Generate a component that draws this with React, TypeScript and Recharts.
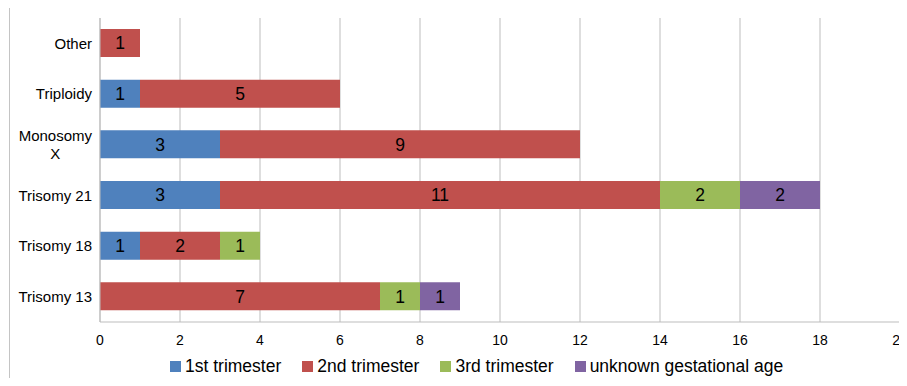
import React from 'react';
import { BarChart, Bar, XAxis, YAxis, CartesianGrid, Legend, LabelList } from 'recharts';

const categories = ['Other', 'Triploidy', 'Monosomy X', 'Trisomy 21', 'Trisomy 18', 'Trisomy 13'];
const firstTrimester = [null, 1, 3, 3, 1, null];
const secondTrimester = [1, 5, 9, 11, 2, 7];
const thirdTrimester = [null, null, null, 2, 1, 1];
const unknownAge = [null, null, null, 2, null, 1];
const xTicks = [0, 2, 4, 6, 8, 10, 12, 14, 16, 18, 20];

const seriesNames = ['1st trimester', '2nd trimester', '3rd trimester', 'unknown gestational age'];
const seriesKeys = ['first', 'second', 'third', 'unknown'];
const seriesColors = ['#4F81BD', '#C0504D', '#9BBB59', '#8064A2'];

const data = categories.map((name, i) => ({
  name,
  first: firstTrimester[i],
  second: secondTrimester[i],
  third: thirdTrimester[i],
  unknown: unknownAge[i],
}));

const FONT = '"Liberation Sans", Arial, Helvetica, sans-serif';

let ctx: CanvasRenderingContext2D | null = null;
function measure(text: string, size: number): number {
  if (!ctx) {
    const c = document.createElement('canvas');
    ctx = c.getContext('2d');
  }
  if (!ctx) return text.length * size * 0.55;
  ctx.font = `${size}px "Liberation Sans", Arial, sans-serif`;
  return ctx.measureText(text).width;
}

function wrap(text: string, size: number, maxW: number): string[] {
  const words = text.split(' ');
  const lines: string[] = [];
  let cur = '';
  for (const w of words) {
    const t = cur ? cur + ' ' + w : w;
    if (cur && measure(t, size) > maxW) {
      lines.push(cur);
      cur = w;
    } else cur = t;
  }
  if (cur) lines.push(cur);
  return lines;
}

const YTick = (props: any) => {
  const { x, y, payload } = props;
  const size = 15;
  const lines = wrap(String(payload.value), size, 85);
  if (lines.length === 1) {
    return (
      <text x={x + 1} y={y} dy="0.35em" textAnchor="end" fontSize={size} fontFamily={FONT} fill="#000">
        {lines[0]}
      </text>
    );
  }
  const maxW = Math.max(...lines.map((l) => measure(l, size)));
  const cx = x + 1 - maxW / 2;
  const lh = 18;
  const start = y - ((lines.length - 1) * lh) / 2;
  return (
    <text textAnchor="middle" fontSize={size} fontFamily={FONT} fill="#000">
      {lines.map((l, i) => (
        <tspan key={i} x={cx} y={start + i * lh} dy="0.35em">
          {l}
        </tspan>
      ))}
    </text>
  );
};

const LegendContent = () => (
  <div
    style={{
      display: 'flex',
      paddingLeft: 170,
      paddingTop: 10,
      fontFamily: FONT,
      fontSize: 17.5,
      color: '#000',
      lineHeight: '20px',
    }}
  >
    {seriesNames.map((n, i) => (
      <div key={n} style={{ display: 'flex', alignItems: 'center', marginRight: 21 }}>
        <span style={{ display: 'inline-block', width: 11, height: 11, background: seriesColors[i], marginRight: 4 }} />
        <span>{n}</span>
      </div>
    ))}
  </div>
);

const labelFmt = (v: any) => (v ? v : '');

export default function App() {
  return (
    <div style={{ margin: -8, width: 907, height: 386, position: 'relative', overflow: 'hidden', background: '#fff' }}>
      <div
        style={{
          position: 'absolute',
          left: 9,
          top: 7,
          width: 1000,
          height: 1000,
          borderLeft: '1px solid #c4c4c4',
          borderTop: '1px solid #c4c4c4',
        }}
      />
      <div style={{ position: 'absolute', left: 0, top: 0 }}>
        <BarChart
          width={907}
          height={386}
          data={data}
          layout="vertical"
          margin={{ top: 18, right: 7, left: 0, bottom: 0 }}
          barSize={28}
        >
          <CartesianGrid horizontal={false} stroke="#bdbdbd" strokeWidth={1} />
          <XAxis
            type="number"
            domain={[0, 20]}
            ticks={xTicks}
            interval={0}
            height={24}
            tickLine={false}
            tickSize={0}
            tickMargin={13}
            axisLine={{ stroke: '#bdbdbd' }}
            tick={{ fontSize: 14, fill: '#000', fontFamily: FONT }}
            allowDataOverflow
          />
          <YAxis
            type="category"
            dataKey="name"
            width={100}
            tickLine={false}
            tickSize={0}
            tickMargin={9}
            axisLine={{ stroke: '#bdbdbd' }}
            tick={<YTick />}
            interval={0}
          />
          <Legend verticalAlign="bottom" height={40} content={<LegendContent />} />
          {seriesKeys.map((k, i) => (
            <Bar key={k} dataKey={k} name={seriesNames[i]} stackId="a" fill={seriesColors[i]} isAnimationActive={false}>
              <LabelList
                dataKey={k}
                position="center"
                formatter={labelFmt}
                fill="#000"
                fontSize={17.5}
                fontFamily={FONT}
              />
            </Bar>
          ))}
        </BarChart>
      </div>
    </div>
  );
}
